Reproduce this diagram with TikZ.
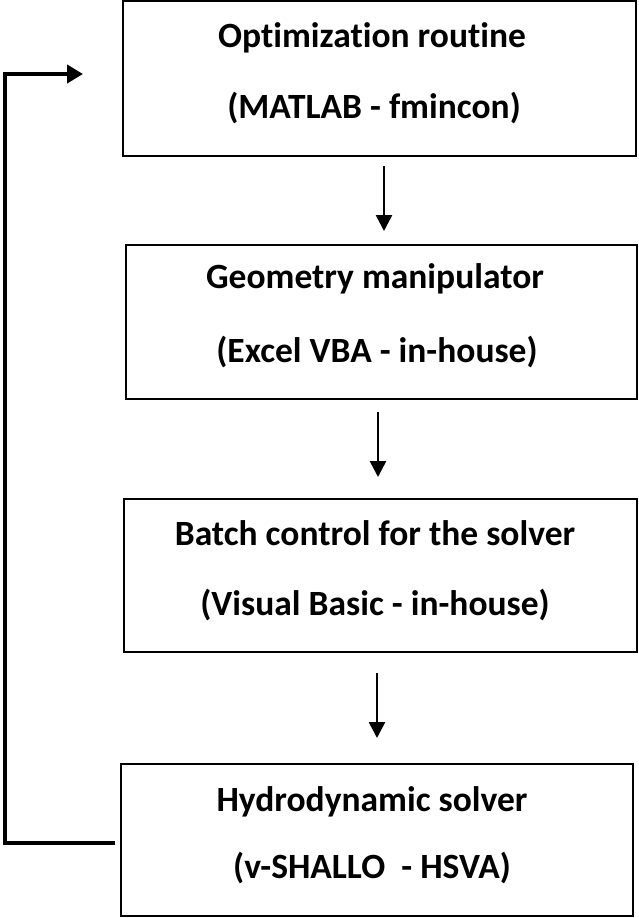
\documentclass[tikz,border=0pt]{standalone}
\usepackage{fontspec}
\setmainfont{Carlito}[Ligatures=NoCommon]
\usetikzlibrary{arrows.meta}
\begin{document}
\begin{tikzpicture}[x=1pt,y=-1pt,
  box/.style={draw=black, line width=1.3pt, inner sep=0pt, fill=white},
  txt/.style={anchor=base, inner sep=0pt, font=\fontsize{35.5}{40}\selectfont\bfseries},
  flow/.style={line width=2.6pt, -{Triangle[width=16pt,length=16pt]}},
  fb/.style={line width=4.5pt, -{Triangle[width=18pt,length=16pt]}}
]
\useasboundingbox (0,0) rectangle (638,918);
% boxes
\node[box, minimum width=513pt, minimum height=155pt] (b1) at (379.5,78.5) {};
\node[box, minimum width=511pt, minimum height=154pt] (b2) at (381.5,322) {};
\node[box, minimum width=513pt, minimum height=153pt] (b3) at (380.5,575.5) {};
\node[box, minimum width=512pt, minimum height=152pt] (b4) at (377,840) {};
% texts
\node[txt] (t1a) at (372,47) {Optimization routine};
\node[txt] (t1b) at (374,118) {(MATLAB - fmincon)};
\node[txt] (t2a) at (375,288) {Geometry manipulator};
\node[txt] (t2b) at (377,362) {(Excel VBA - in-house)};
\node[txt] (t3a) at (375,545) {Batch control for the solver};
\node[txt] (t3b) at (375,615) {(Visual Basic - in-house)};
\node[txt] (t4a) at (372,811) {Hydrodynamic solver};
\node[txt] (t4b) at (372,878) {(v-SHALLO \ - HSVA)};
% arrows
\coordinate (a1s) at (384,166); \coordinate (a1e) at (384,231);
\coordinate (a2s) at (378,412); \coordinate (a2e) at (378,477);
\coordinate (a3s) at (377,673); \coordinate (a3e) at (377,738);
\draw[flow] (a1s) -- (a1e);
\draw[flow] (a2s) -- (a2e);
\draw[flow] (a3s) -- (a3e);
% feedback loop
\coordinate (fbs) at (115,843);
\coordinate (fbc) at (5,843);
\coordinate (fbe) at (83,74);
\draw[fb, line join=miter] (fbs) -- (fbc) |- (fbe);
\end{tikzpicture}
\end{document}
